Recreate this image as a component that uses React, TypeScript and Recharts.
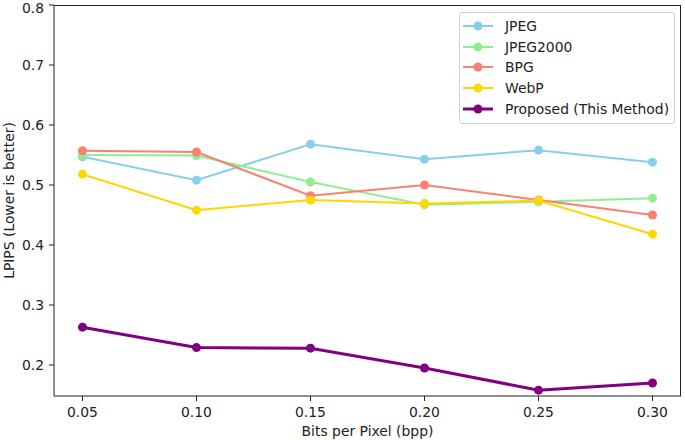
import React from "react";
import { LineChart, Line, XAxis, YAxis } from "recharts";

const bpp = [0.05, 0.1, 0.15, 0.2, 0.25, 0.3];
const jpeg = [0.547, 0.508, 0.568, 0.543, 0.558, 0.538];
const jpeg2000 = [0.55, 0.549, 0.505, 0.467, 0.472, 0.478];
const bpg = [0.557, 0.555, 0.482, 0.5, 0.475, 0.45];
const webp = [0.518, 0.458, 0.475, 0.469, 0.474, 0.418];
const proposed = [0.263, 0.229, 0.228, 0.195, 0.158, 0.17];

const xTicks = [0.05, 0.1, 0.15, 0.2, 0.25, 0.3];
const yTicks = [0.2, 0.3, 0.4, 0.5, 0.6, 0.7, 0.8];

const series = [
  { key: "jpeg", name: "JPEG", color: "#87CEEB", width: 2 },
  { key: "jpeg2000", name: "JPEG2000", color: "#90EE90", width: 2 },
  { key: "bpg", name: "BPG", color: "#FA8072", width: 2 },
  { key: "webp", name: "WebP", color: "#FFD700", width: 2 },
  { key: "proposed", name: "Proposed (This Method)", color: "#800080", width: 3 },
];

const data = bpp.map((x, i) => ({
  bpp: x,
  jpeg: jpeg[i],
  jpeg2000: jpeg2000[i],
  bpg: bpg[i],
  webp: webp[i],
  proposed: proposed[i],
}));

const font = "'DejaVu Sans', sans-serif";
const fontSize = 13.9;
const axisColor = "#222";

function LegendBox() {
  return (
    <div
      style={{
        position: "absolute",
        left: 459,
        top: 12,
        width: 216,
        boxSizing: "border-box",
        background: "rgba(255,255,255,0.85)",
        border: "1px solid #d0d0d0",
        borderRadius: 3,
        padding: "2.5px 3px 4px 3px",
        fontFamily: font,
        fontSize: fontSize,
        color: "#222",
      }}
    >
      {series.map((s) => (
        <div key={s.key} style={{ display: "flex", alignItems: "center", height: 20.75, whiteSpace: "nowrap" }}>
          <svg width={30} height={12} style={{ marginRight: 12, flex: "none" }}>
            <line x1={0} y1={6} x2={30} y2={6} stroke={s.color} strokeWidth={s.width} />
            <circle cx={15} cy={6} r={4.5} fill={s.color} />
          </svg>
          <span>{s.name}</span>
        </div>
      ))}
    </div>
  );
}

function YLabel(props: any) {
  const vb = props.viewBox || { y: 5, height: 391 };
  const cx = 9;
  const cy = vb.y + vb.height / 2;
  return (
    <text
      x={cx}
      y={cy}
      transform={`rotate(-90, ${cx}, ${cy})`}
      textAnchor="middle"
      dominantBaseline="central"
      fill={axisColor}
      fontSize={fontSize}
      fontFamily={font}
    >
      LPIPS (Lower is better)
    </text>
  );
}

export default function App() {
  return (
    <div style={{ position: "absolute", left: 0, top: 0, width: 685, height: 440, background: "#fff" }}>
      <LineChart
        width={685}
        height={440}
        data={data}
        margin={{ top: 5, right: 4, bottom: 0, left: 0 }}
      >
        <XAxis
          dataKey="bpp"
          type="number"
          domain={[0.0375, 0.3125]}
          ticks={xTicks}
          tickFormatter={(v: number) => v.toFixed(2)}
          height={44}
          tickSize={5}
          tickMargin={6}
          stroke={axisColor}
          tick={{ fill: axisColor, fontSize: fontSize, fontFamily: font }}
          allowDataOverflow
          label={{
            value: "Bits per Pixel (bpp)",
            position: "insideBottom",
            offset: 4,
            fill: axisColor,
            fontSize: fontSize,
            fontFamily: font,
          }}
        />
        <YAxis
          type="number"
          domain={[0.1483, 0.8]}
          ticks={yTicks}
          tickFormatter={(v: number) => v.toFixed(1)}
          width={54}
          tickSize={5}
          tickMargin={5}
          stroke={axisColor}
          tick={{ fill: axisColor, fontSize: fontSize, fontFamily: font }}
          allowDataOverflow
          label={<YLabel />}
        />
        {series.map((s) => (
          <Line
            key={s.key}
            dataKey={s.key}
            name={s.name}
            type="linear"
            stroke={s.color}
            strokeWidth={s.width}
            dot={{ r: 4.5, fill: s.color, stroke: s.color, strokeWidth: 0 }}
            activeDot={false}
            isAnimationActive={false}
          />
        ))}
      </LineChart>
      {/* top and right spines */}
      <div
        style={{
          position: "absolute",
          left: 54,
          top: 5,
          width: 627,
          height: 391,
          borderTop: `1px solid ${axisColor}`,
          borderRight: `1px solid ${axisColor}`,
          boxSizing: "border-box",
          pointerEvents: "none",
        }}
      />
      <LegendBox />
    </div>
  );
}
